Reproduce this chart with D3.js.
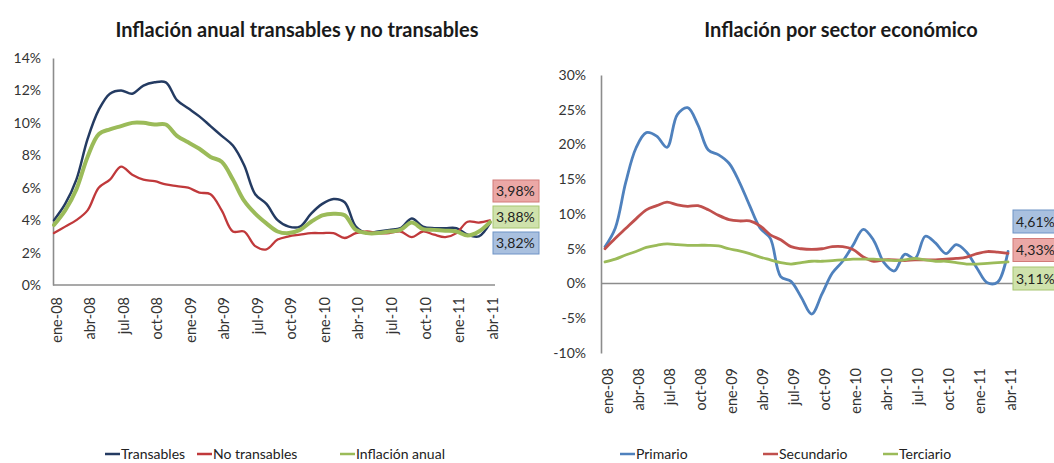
<!DOCTYPE html>
<html>
<head>
<meta charset="utf-8">
<script src="https://cdn.jsdelivr.net/npm/d3@7"></script>
<style>
  html, body { margin: 0; padding: 0; background: #fff; }
  svg { display: block; font-family: Lato, "Open Sans", sans-serif; }
</style>
</head>
<body>
<svg id="chart" width="1054" height="463"></svg>
<script>
// ---------- DATA ----------
const monthLabels = ["ene-08","abr-08","jul-08","oct-08","ene-09","abr-09","jul-09","oct-09","ene-10","abr-10","jul-10","oct-10","ene-11","abr-11"];

// Left chart: monthly values, ene-08 .. abr-11 (40 months)
const transables = [4.0,5.0,6.5,9.0,10.8,11.8,12.0,11.8,12.3,12.5,12.5,11.4,10.9,10.4,9.8,9.2,8.6,7.4,5.6,5.0,
                    4.0,3.6,3.6,4.4,5.0,5.3,5.1,3.6,3.2,3.3,3.4,3.5,4.1,3.6,3.5,3.5,3.5,3.1,3.0,3.82];
const noTransables = [3.2,3.6,4.0,4.6,6.0,6.5,7.3,6.8,6.5,6.4,6.2,6.1,6.0,5.7,5.6,4.6,3.3,3.3,2.4,2.2,
                      2.8,3.0,3.1,3.2,3.2,3.2,2.9,3.2,3.3,3.2,3.2,3.3,2.95,3.3,3.1,2.95,3.2,3.9,3.85,3.98];
const inflacionAnual = [3.7,4.6,5.9,7.9,9.3,9.6,9.8,10.0,10.0,9.9,9.9,9.2,8.8,8.4,7.9,7.6,6.5,5.2,4.4,3.8,
                        3.3,3.2,3.4,3.9,4.3,4.4,4.3,3.4,3.2,3.2,3.3,3.4,3.85,3.45,3.4,3.35,3.3,3.05,3.3,3.88];

// Right chart
const primario = [5.3,8.0,14.5,19.5,21.7,21.2,19.6,24.3,25.3,22.8,19.2,18.5,17.3,14.6,11.2,8.0,6.5,1.0,0.3,-2.0,
                  -4.4,-1.5,1.5,3.2,5.5,7.8,6.2,3.0,1.8,4.2,3.6,6.8,5.8,4.3,5.6,4.5,2.2,0.1,0.2,4.61];
const secundario = [5.0,6.5,7.9,9.3,10.6,11.2,11.7,11.3,11.1,11.2,10.6,9.8,9.2,9.0,9.0,8.3,7.0,6.3,5.3,5.0,
                    4.9,5.0,5.3,5.3,4.9,3.8,3.2,3.4,3.4,3.3,3.4,3.4,3.4,3.5,3.6,3.8,4.3,4.6,4.5,4.33];
const terciario = [3.1,3.5,4.1,4.6,5.2,5.5,5.7,5.6,5.5,5.5,5.5,5.4,5.0,4.7,4.3,3.8,3.4,3.0,2.8,3.0,
                   3.2,3.2,3.3,3.4,3.5,3.5,3.5,3.4,3.3,3.4,3.6,3.4,3.2,3.2,3.0,2.8,2.8,2.9,3.0,3.11];

const leftTicks = [0,2,4,6,8,10,12,14];
const rightTicks = [-10,-5,0,5,10,15,20,25,30];

const leftSeries = [
  {name: "Transables", values: transables, color: "#243b62", width: 2.5, label: "3,82%", fill: "#a9c0df", box: "#6f93c6", order: 2},
  {name: "No transables", values: noTransables, color: "#c0393b", width: 2.3, label: "3,98%", fill: "#eba8a6", box: "#d27a78", order: 0},
  {name: "Inflación anual", values: inflacionAnual, color: "#9bbb59", width: 4, label: "3,88%", fill: "#cfe2ac", box: "#a8c672", order: 1}
];
const rightSeries = [
  {name: "Primario", values: primario, color: "#4f81bd", width: 2.8, label: "4,61%", fill: "#a9c0df", box: "#6f93c6", order: 0},
  {name: "Secundario", values: secundario, color: "#c0504d", width: 2.8, label: "4,33%", fill: "#eba8a6", box: "#d27a78", order: 1},
  {name: "Terciario", values: terciario, color: "#9bbb59", width: 2.8, label: "3,11%", fill: "#cfe2ac", box: "#a8c672", order: 2}
];

// ---------- DRAW ----------
const svg = d3.select("#chart");
const fmtPct = d => d + "%";

function drawChart(cfg) {
  const g = svg.append("g");
  const n = cfg.series[0].values.length;
  const x = d3.scaleLinear().domain([0, n - 1]).range([cfg.x0, cfg.x1]);
  const y = d3.scaleLinear().domain([cfg.ticks[0], cfg.ticks[cfg.ticks.length - 1]]).range([cfg.yBottom, cfg.yTop]);

  // title
  g.append("text").attr("x", cfg.titleX).attr("y", 37).attr("text-anchor", "middle")
    .attr("font-size", 20).attr("font-weight", 700).attr("fill", "#1a1a1a").text(cfg.title);

  // y axis
  const ya = g.append("g").attr("transform", `translate(${cfg.axisX},0)`)
    .call(d3.axisLeft(y).tickValues(cfg.ticks).tickFormat(fmtPct).tickSize(0).tickPadding(cfg.yPad));
  ya.select(".domain").attr("stroke", "#8c8c8c").attr("stroke-width", 1.6);
  ya.selectAll("text").attr("font-size", 14).attr("fill", "#333").attr("font-family", "Lato, sans-serif");

  // category axis (labels)
  const idx = d3.range(0, n, 3);
  const xa = g.append("g").attr("transform", `translate(0,${cfg.labelAxisY})`)
    .call(d3.axisBottom(x).tickValues(idx).tickFormat(i => monthLabels[i / 3]).tickSize(0));
  xa.select(".domain").remove();
  xa.selectAll("text")
    .attr("font-size", 14.5).attr("fill", "#333").attr("font-family", "Lato, sans-serif")
    .attr("text-anchor", "end").attr("dy", "0.35em").attr("y", 0)
    .attr("transform", `translate(2,${cfg.labelOffset}) rotate(-90)`);

  // horizontal axis line (at zero)
  g.append("line").attr("x1", cfg.axisX).attr("x2", cfg.xAxisEnd)
    .attr("y1", y(0)).attr("y2", y(0)).attr("stroke", "#8c8c8c").attr("stroke-width", 1.6);

  // lines
  const line = d3.line().x((d, i) => x(i)).y(d => y(d)).curve(d3.curveCatmullRom.alpha(0.5));
  cfg.series.forEach(s => {
    g.append("path").datum(s.values).attr("d", line).attr("fill", "none")
      .attr("stroke", s.color).attr("stroke-width", s.width)
      .attr("stroke-linejoin", "round").attr("stroke-linecap", "round");
  });

  // end labels (stacked boxes)
  cfg.series.forEach(s => {
    const cy = cfg.boxTop + s.order * cfg.boxStep;
    g.append("rect").attr("x", cfg.boxX).attr("y", cy).attr("width", cfg.boxW).attr("height", cfg.boxH)
      .attr("fill", s.fill).attr("stroke", s.box).attr("stroke-width", 1);
    g.append("text").attr("x", cfg.boxX + 3).attr("y", cy + cfg.boxH / 2).attr("dy", "0.36em")
      .attr("font-size", 14).attr("fill", "#222").text(s.label);
  });

  // legend
  cfg.series.forEach((s, k) => {
    const lx = cfg.legendX[k];
    g.append("line").attr("x1", lx).attr("x2", lx + 15).attr("y1", 454).attr("y2", 454)
      .attr("stroke", s.color).attr("stroke-width", 2.5);
    g.append("text").attr("x", lx + 16).attr("y", 454).attr("dy", "0.35em")
      .attr("font-size", 14).attr("fill", "#222").text(s.name);
  });
}

drawChart({
  title: "Inflación anual transables y no transables", titleX: 297,
  series: leftSeries, ticks: leftTicks,
  x0: 54, x1: 490, yTop: 58, yBottom: 285, axisX: 53, xAxisEnd: 495, yPad: 12,
  labelAxisY: 285, labelOffset: 12,
  boxX: 493, boxW: 46, boxH: 22, boxTop: 180, boxStep: 26,
  legendX: [105, 197, 340]
});

drawChart({
  title: "Inflación por sector económico", titleX: 841,
  series: rightSeries, ticks: rightTicks,
  x0: 605, x1: 1008, yTop: 75, yBottom: 353, axisX: 601, xAxisEnd: 1013, yPad: 15,
  labelAxisY: 353, labelOffset: 15,
  boxX: 1013, boxW: 48, boxH: 23, boxTop: 210, boxStep: 28.5,
  legendX: [620, 763, 883]
});
</script>
</body>
</html>
